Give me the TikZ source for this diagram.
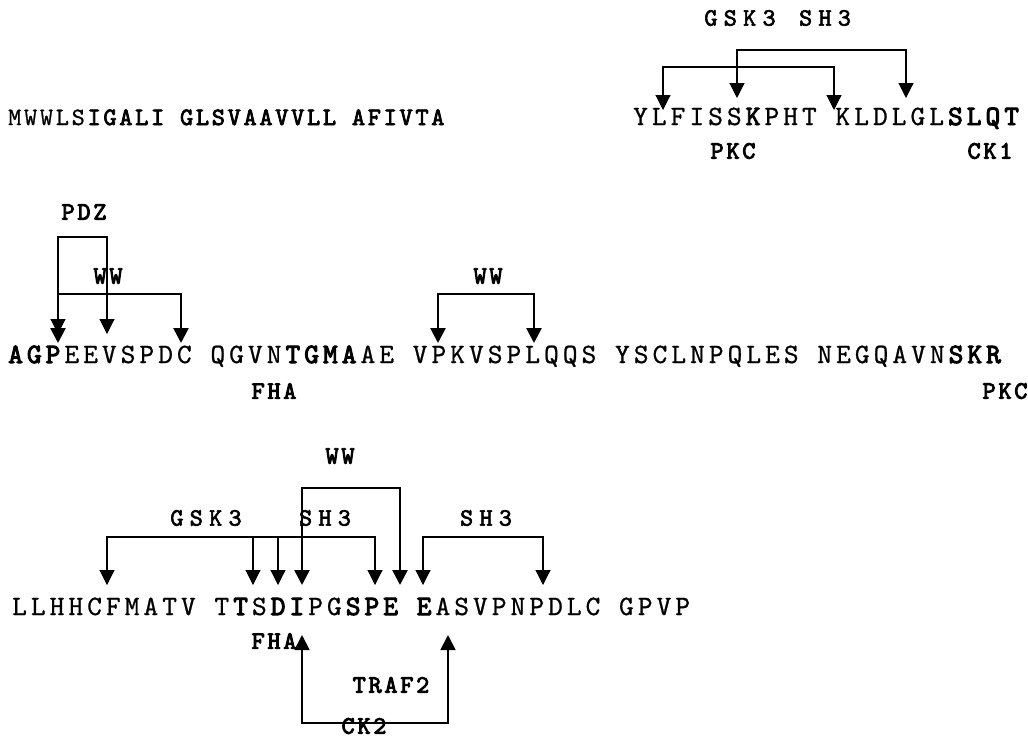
\documentclass[tikz,border=0pt]{standalone}
\usepackage{fontspec}
\usepackage{tikz}
\usetikzlibrary{arrows.meta, positioning}
\newfontfamily\seqfont{lmmono10-regular.otf}[LetterSpace=14.5, FakeBold=0.8,
  BoldFont=lmmono10-regular.otf, BoldFeatures={FakeBold=3.5}]
\newfontfamily\seqsfont{lmmono10-regular.otf}[LetterSpace=11, FakeBold=0.8,
  BoldFont=lmmono10-regular.otf, BoldFeatures={FakeBold=3}]
\newfontfamily\labfont{lmmono10-regular.otf}[LetterSpace=11, FakeBold=3.5]
\newfontfamily\gapfont{lmmono10-regular.otf}[LetterSpace=25, FakeBold=2.5]
\tikzset{
  seq/.style  ={anchor=base west, inner sep=0pt, font=\seqfont\fontsize{28}{28}\selectfont},
  seqs/.style ={seq, font=\seqsfont\fontsize{25}{25}\selectfont},
  lab/.style  ={inner sep=0pt, font=\labfont\fontsize{25}{25}\selectfont},
  labg/.style ={inner sep=0pt, font=\gapfont\fontsize{25}{25}\selectfont},
  brk/.style  ={draw=black, line width=1.1pt,
                {Triangle[length=15pt,width=15pt]}-{Triangle[length=15pt,width=15pt]}},
  brkw/.style ={brk, line width=2.6pt},
  brkm/.style ={brk, line width=1.8pt},
  drop/.style ={draw=black, line width=1.1pt, -{Triangle[length=15pt,width=15pt]}},
}
\begin{document}
\begin{tikzpicture}[x=1pt, y=-1pt]
\useasboundingbox (0,0) rectangle (1028,740);

% first row
\node[seqs] (row1a) at (8,125) {MWWLS\textbf{IGALI GLSVAAVVLL AFIVTA}};
\node[seq] (row1b) at (633,125) {YLFISS\textbf{K}PHT KLDLGL\textbf{SLQT}};
\node[labg] (gsk1) at (740,18) {GSK3};
\node[labg] (sh1) at (825,18) {SH3};
\node[lab] (pkc1) at (733,151) {PKC};
\node[lab] (ck1) at (990,151) {CK1};
\coordinate (g1a) at (663,110); \coordinate (g1b) at (834,110); \coordinate (g1t) at (748,67);
\coordinate (s1a) at (737,98);  \coordinate (s1b) at (906,98);  \coordinate (s1t) at (820,50);
\draw[brk] (g1a) |- (g1t) -| (g1b);
\draw[brk] (s1a) |- (s1t) -| (s1b);

% second row
\node[seq] (row2) at (8,363) {\textbf{AGP}EEVSPDC QGVN\textbf{TGMA}AE VPKVSPLQQS YSCLNPQLES NEGQAVN\textbf{SKR}};
\node[lab] (pdz) at (84,212) {PDZ};
\node[lab] (ww2a) at (108,276) {WW};
\node[lab] (ww2b) at (488,276) {WW};
\node[lab] (fha2) at (274,391) {FHA};
\node[lab] (pkc2) at (1005,391) {PKC};
\coordinate (p2a) at (58,334);  \coordinate (p2b) at (107,334); \coordinate (p2t) at (82,237);
\coordinate (w2a) at (58,343);  \coordinate (w2b) at (181,343); \coordinate (w2t) at (120,294);
\coordinate (w2c) at (438,343); \coordinate (w2d) at (534,343); \coordinate (w2u) at (487,294);
\draw[brk] (p2a) |- (p2t) -| (p2b);
\draw[brkw] (w2a) |- (w2t) -| (w2b);
\draw[brkw] (w2c) |- (w2u) -| (w2d);

% third row
\node[seq] (row3) at (12,615) {LLHHCFMATV T\textbf{T}S\textbf{DI}PG\textbf{SPE E}ASVPNPDLC GPVP};
\node[lab] (ww3) at (340,456) {WW};
\node[labg] (gsk3) at (206,518) {GSK3};
\node[labg] (sh3a) at (325,518) {SH3};
\node[labg] (sh3b) at (486,518) {SH3};
\node[lab] (fha3) at (274,641) {FHA};
\node[lab] (traf2) at (391,685) {TRAF2};
\node[lab] (ck2) at (364,726) {CK2};
\coordinate (k3a) at (107,585); \coordinate (k3b) at (253,585);
\coordinate (k3c) at (278,585); \coordinate (k3d) at (375,585); \coordinate (k3t) at (240,537);
\coordinate (h3a) at (423,585); \coordinate (h3b) at (543,585); \coordinate (h3t) at (483,537);
\coordinate (w3a) at (302,585); \coordinate (w3b) at (400,585); \coordinate (w3t) at (350,488);
\coordinate (c3a) at (302,635); \coordinate (c3b) at (448,635); \coordinate (c3t) at (375,723);
\draw[brk] (k3a) |- (k3t) -| (k3d);
\draw[drop] (k3b |- k3t) -- (k3b);
\draw[drop] (k3c |- k3t) -- (k3c);
\draw[brk] (h3a) |- (h3t) -| (h3b);
\draw[brkw] (w3a) |- (w3t) -| (w3b);
\draw[brkm] (c3a) |- (c3t) -| (c3b);
\end{tikzpicture}
\end{document}
